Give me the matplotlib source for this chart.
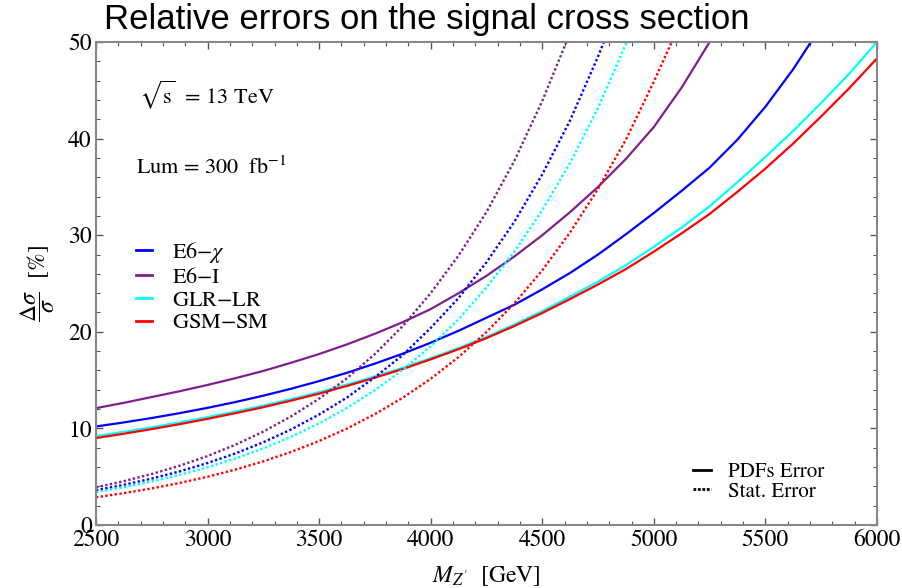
import matplotlib
matplotlib.use("Agg")
import matplotlib.pyplot as plt
from matplotlib.lines import Line2D
from matplotlib.ticker import MultipleLocator

plt.rcParams["font.family"] = ["STIXGeneral", "DejaVu Serif"]
plt.rcParams["mathtext.fontset"] = "stix"

# Z' mass grid (GeV), 125 GeV steps
m_grid = [2500, 2625, 2750, 2875, 3000, 3125, 3250, 3375, 3500, 3625, 3750, 3875, 4000,
          4125, 4250, 4375, 4500, 4625, 4750, 4875, 5000, 5125, 5250, 5375, 5500, 5625,
          5750, 5875, 6000]

# PDF uncertainty (solid curves), in percent; last point is where the curve leaves the frame
m_e6chi_pdf = m_grid[:25] + [5625, 5704]
e6chi_pdf = [10.2, 10.62, 11.08, 11.58, 12.13, 12.73, 13.39, 14.11, 14.9, 15.76, 16.71, 17.74,
             18.87, 20.11, 21.46, 22.8, 24.4, 26.1, 28.0, 30.1, 32.3, 34.6, 37.0, 39.9, 43.3,
             47.2, 50.0]

m_e6i_pdf = m_grid[:23]
e6i_pdf = [12.1, 12.65, 13.25, 13.85, 14.5, 15.2, 15.95, 16.8, 17.7, 18.7, 19.8, 21.0, 22.35,
           24.0, 25.8, 27.8, 30.0, 32.4, 35.0, 37.9, 41.2, 45.3, 50.0]

m_glr_pdf = m_grid
glr_pdf = [9.2, 9.65, 10.12, 10.62, 11.17, 11.75, 12.37, 13.04, 13.75, 14.55, 15.38, 16.27,
           17.27, 18.31, 19.47, 20.75, 22.15, 23.65, 25.2, 26.9, 28.8, 30.8, 33.0, 35.5, 38.1,
           40.8, 43.7, 46.7, 50.0]

m_gsm_pdf = m_grid
gsm_pdf = [9.0, 9.45, 9.93, 10.44, 10.99, 11.58, 12.2, 12.88, 13.6, 14.4, 15.25, 16.15, 17.15,
           18.2, 19.35, 20.6, 21.95, 23.4, 24.9, 26.5, 28.3, 30.2, 32.2, 34.5, 36.9, 39.5, 42.3,
           45.2, 48.3]

# statistical uncertainty (dotted curves), in percent
m_e6chi_stat = m_grid[:19] + [4776]
e6chi_stat = [3.6, 4.16, 4.81, 5.55, 6.42, 7.41, 8.57, 9.9, 11.44, 13.2, 15.3, 17.6, 20.4,
              23.5, 27.2, 31.4, 36.3, 41.9, 48.5, 50.0]

m_e6i_stat = m_grid[:17] + [4608]
e6i_stat = [3.9, 4.54, 5.28, 6.14, 7.14, 8.31, 9.67, 11.25, 13.08, 15.2, 17.7, 20.6, 24.0,
            27.9, 32.4, 37.7, 43.9, 50.0]

m_glr_stat = m_grid[:20] + [4878]
glr_stat = [3.4, 3.92, 4.51, 5.19, 5.98, 6.89, 7.93, 9.14, 10.52, 12.12, 13.96, 16.07, 18.51,
            21.3, 24.6, 28.3, 32.6, 37.5, 43.2, 49.8, 50.0]

m_gsm_stat = m_grid[:21] + [5080]
gsm_stat = [2.87, 3.3, 3.79, 4.35, 5.0, 5.74, 6.59, 7.57, 8.7, 9.99, 11.48, 13.18, 15.14,
            17.39, 19.98, 22.95, 26.36, 30.3, 34.8, 39.9, 45.9, 50.0]

models = ["E6$-\\chi$", "E6$-$I", "GLR$-$LR", "GSM$-$SM"]
colors = ["#0000ff", "#7f1f8f", "#00ffff", "#ff0000"]
pdf_curves = [(m_e6chi_pdf, e6chi_pdf), (m_e6i_pdf, e6i_pdf), (m_glr_pdf, glr_pdf), (m_gsm_pdf, gsm_pdf)]
stat_curves = [(m_e6chi_stat, e6chi_stat), (m_e6i_stat, e6i_stat), (m_glr_stat, glr_stat), (m_gsm_stat, gsm_stat)]

fig = plt.figure(figsize=(9.03, 5.88), dpi=100)
ax = fig.add_axes([0.1063, 0.1071, 0.8649, 0.8215])

for (m, v), c in zip(pdf_curves, colors):
    ax.plot(m, v, color=c, lw=1.6)
for (m, v), c in zip(stat_curves, colors):
    ax.plot(m, v, color=c, lw=1.7, linestyle=(0, (1, 1)))

ax.set_xlim(2500, 6000)
ax.set_ylim(0, 50)
ax.xaxis.set_major_locator(MultipleLocator(500))
ax.xaxis.set_minor_locator(MultipleLocator(100))
ax.yaxis.set_major_locator(MultipleLocator(10))
ax.yaxis.set_minor_locator(MultipleLocator(2))
ax.tick_params(which="both", direction="in", top=True, right=True, color="#555555", labelsize=17)
ax.tick_params(which="major", length=5, width=1)
ax.tick_params(which="minor", length=3, width=0.8)
ax.tick_params(axis="x", pad=3)
ax.tick_params(axis="y", pad=3)
for s in ax.spines.values():
    s.set_color("#888888")
    s.set_linewidth(1.5)

ax.set_xlabel("$M_{Z'}$  [GeV]", fontsize=17, labelpad=10)
ax.set_ylabel("$\\dfrac{\\Delta\\sigma}{\\sigma}$  [%]", fontsize=17, labelpad=8)

ax.text(0.055, 0.89, "$\\sqrt{\\mathrm{s}}$  = 13 TeV", transform=ax.transAxes, fontsize=16, va="center")
ax.text(0.051, 0.739, "Lum = 300  fb$^{-1}$", transform=ax.transAxes, fontsize=16, va="center")

model_handles = [Line2D([], [], color=c, lw=2) for c in colors]
leg1 = ax.legend(model_handles, models, loc="upper left", bbox_to_anchor=(0.051, 0.59),
                 frameon=False, fontsize=16, handlelength=0.72, handletextpad=0.9,
                 labelspacing=0.1, borderpad=0, borderaxespad=0)
ax.add_artist(leg1)

style_handles = [Line2D([], [], color="black", lw=2),
                 Line2D([], [], color="black", lw=2, linestyle=(0, (1, 0.6)))]
ax.legend(style_handles, ["PDFs Error", "Stat. Error"], loc="upper left", bbox_to_anchor=(0.764, 0.13),
          frameon=False, fontsize=15, handlelength=0.9, handletextpad=0.8,
          labelspacing=0.0, borderpad=0, borderaxespad=0)

fig.text(104 / 903, 1 - 29 / 588, "Relative errors on the signal cross section",
         fontsize=25, family="Liberation Sans", va="baseline")

fig.savefig("out.png", dpi=100)
